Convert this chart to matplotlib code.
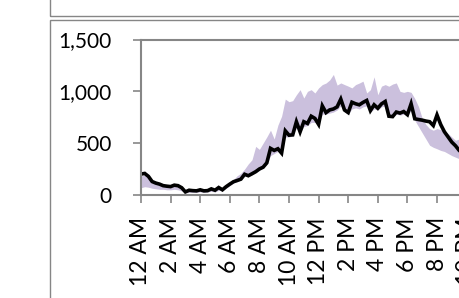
import numpy as np
import matplotlib
matplotlib.use("Agg")
import matplotlib.pyplot as plt
from matplotlib.patches import Rectangle
from matplotlib.ticker import FuncFormatter

plt.rcParams['font.family'] = ['Lato', 'DejaVu Sans']

# 15-minute readings over one day
actual = [202, 208, 180, 130, 115, 105, 90, 85, 81, 95, 90, 70,
          30, 46, 42, 40, 50, 40, 42, 59, 46, 72, 50, 80,
          105, 128, 140, 153, 200, 186, 205, 225, 251, 268, 310, 450,
          430, 446, 404, 619, 577, 580, 707, 609, 707, 690, 760, 739,
          681, 860, 795, 821, 830, 850, 925, 820, 795, 895, 880, 870,
          893, 912, 814, 870, 837, 879, 902, 760, 756, 800, 790, 805,
          775, 880, 735, 728, 722, 713, 707, 670, 772, 680, 610, 560,
          510, 475, 430, 400, 380, 360, 330, 300, 280, 260, 240, 220]

band_low = [70, 80, 75, 65, 60, 55, 55, 50, 50, 55, 50, 40,
            20, 25, 25, 25, 30, 25, 30, 35, 30, 45, 40, 65,
            90, 115, 130, 145, 180, 180, 195, 215, 240, 260, 300, 380,
            400, 420, 400, 560, 560, 570, 650, 600, 660, 670, 700, 700,
            680, 780, 780, 790, 800, 820, 860, 800, 780, 830, 840, 830,
            850, 860, 800, 830, 820, 850, 860, 750, 750, 780, 770, 780,
            760, 820, 720, 660, 600, 540, 480, 460, 446, 430, 420, 400,
            380, 365, 350, 380, 371, 360, 330, 300, 270, 240, 220, 200]

band_high = [185, 190, 170, 130, 110, 100, 90, 85, 85, 90, 85, 70,
             45, 50, 45, 45, 55, 45, 55, 60, 55, 75, 60, 95,
             115, 150, 186, 210, 250, 300, 340, 469, 440, 500, 560, 625,
             540, 674, 760, 925, 900, 910, 967, 1016, 935, 1000, 1016, 984,
             1033, 1065, 1080, 1110, 1163, 1060, 1081, 1065, 1050, 1033, 1065, 1080,
             1098, 984, 1016, 1140, 967, 1050, 1065, 1049, 1070, 1081, 1000, 990,
             1000, 990, 930, 853, 740, 680, 640, 625, 640, 630, 620, 593,
             560, 528, 540, 560, 560, 540, 500, 460, 420, 380, 340, 300]

tick_labels = ['12 AM', '2 AM', '4 AM', '6 AM', '8 AM', '10 AM',
               '12 PM', '2 PM', '4 PM', '6 PM', '8 PM', '10 PM']

W, H = 460, 298
fig = plt.figure(figsize=(W / 100, H / 100), dpi=100)
grey = '#868686'

# chart frames (cropped, run off the edges)
fig.add_artist(Rectangle((50 / W, -0.2), 1.2, (H - 20) / H + 0.2,
                         transform=fig.transFigure, fill=False,
                         edgecolor=grey, lw=1.0))
fig.add_artist(Rectangle((50 / W, (H - 16) / H), 1.2, 0.3,
                         transform=fig.transFigure, fill=False,
                         edgecolor=grey, lw=1.0))

ax = fig.add_axes([141 / W, (H - 195) / H, (492.5 - 141) / W, (195 - 39.5) / H])
x = np.arange(len(actual))
ax.fill_between(x, band_low, band_high, color='#cbc0dd', lw=0)
ax.plot(x, actual, color='black', lw=2.6, solid_joinstyle='miter')

ax.set_xlim(0, len(actual) - 1)
ax.set_ylim(0, 1500)
ax.set_xticks(np.arange(0, len(actual), 8))
ax.set_xticklabels(tick_labels, rotation=90, fontsize=16.5)
ax.set_yticks([0, 500, 1000, 1500])
ax.yaxis.set_major_formatter(FuncFormatter(lambda v, p: '{:,.0f}'.format(v)))
ax.tick_params(axis='y', labelsize=15, pad=15, length=6, width=1.2, color=grey)
ax.tick_params(axis='x', pad=10, length=6, width=1.2, color=grey)
for s in ax.spines.values():
    s.set_color(grey)
    s.set_linewidth(1.5)

fig.savefig('out.png', dpi=100)
